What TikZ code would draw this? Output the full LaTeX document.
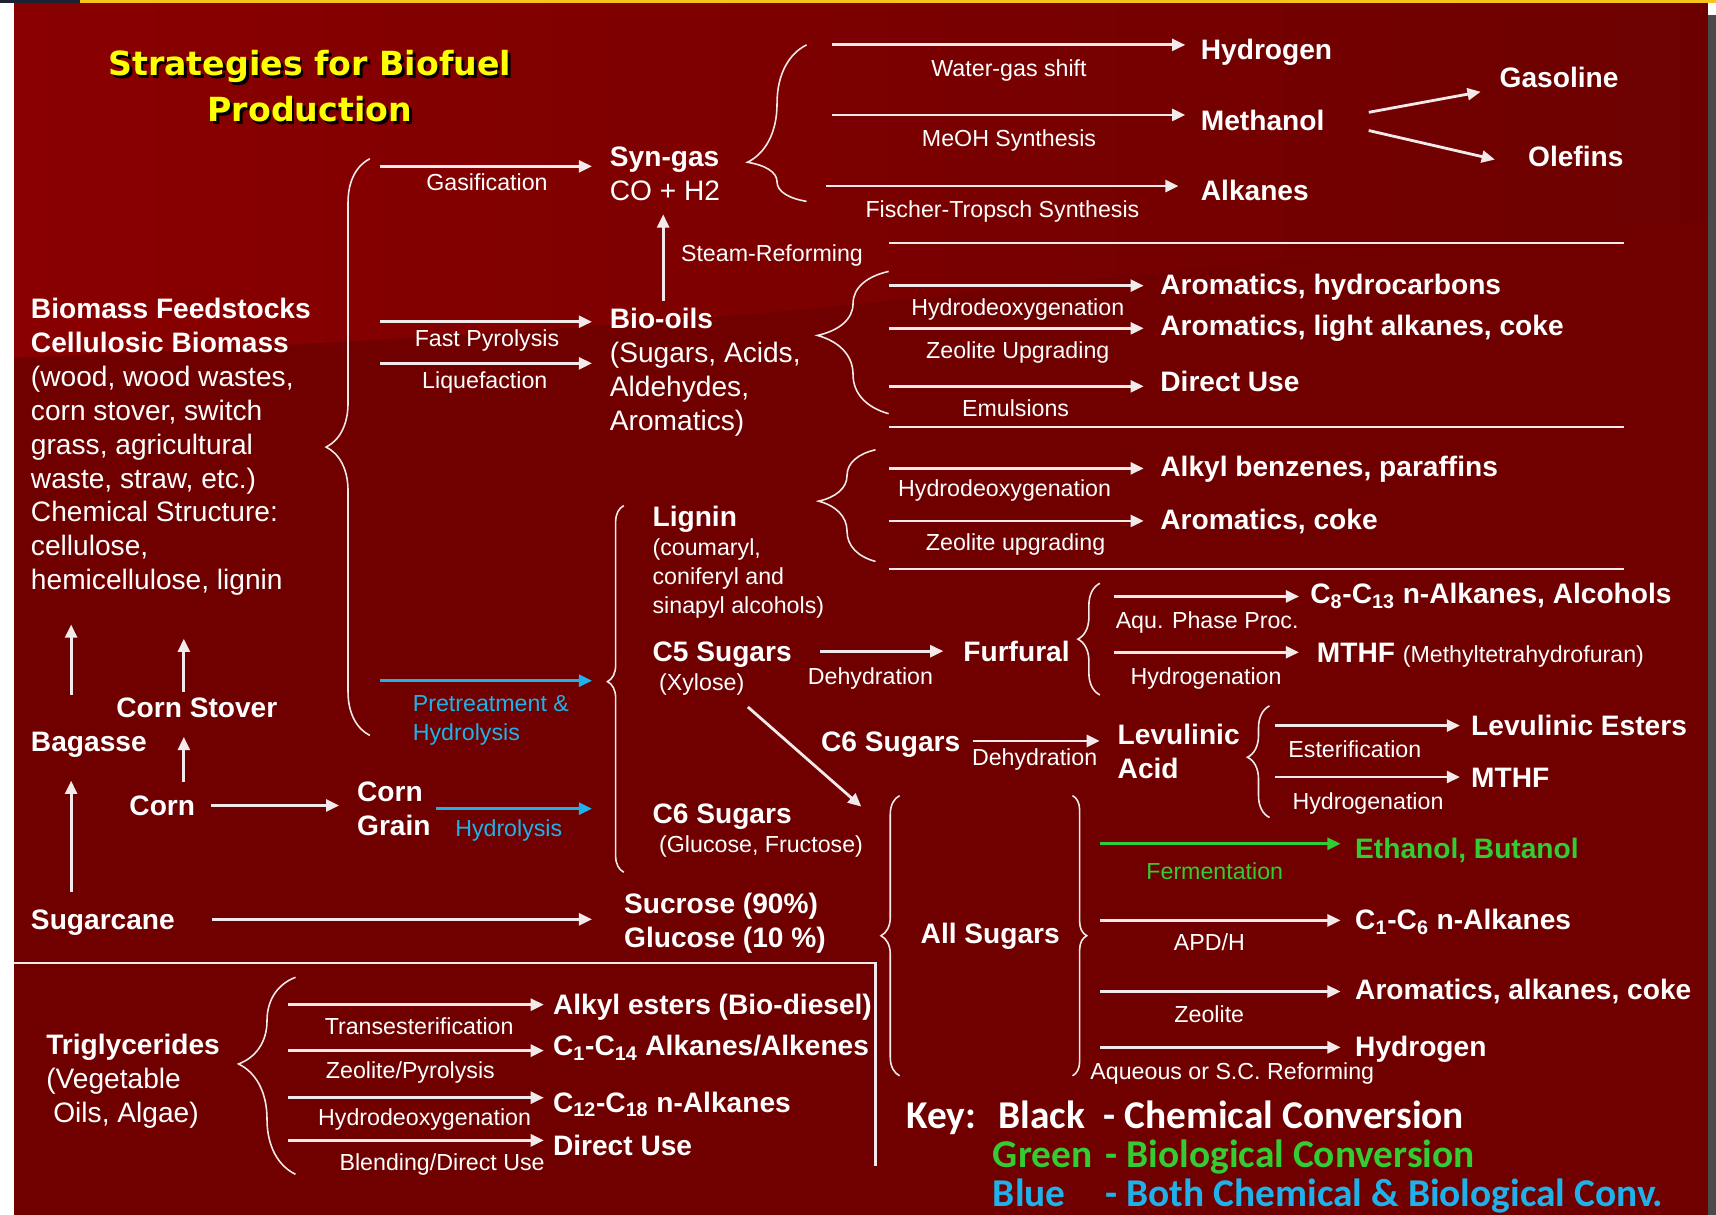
\documentclass[tikz,border=0pt]{standalone}
\usepackage{fontspec}
\setmainfont{Liberation Sans}
\newfontfamily\ttlfont{DejaVu Sans}
\newfontfamily\keyfont{Carlito}
\usetikzlibrary{arrows.meta,calc,decorations.pathreplacing}
\definecolor{bgd}{HTML}{700000}
\definecolor{bgl}{HTML}{8A0000}
\definecolor{bgr}{HTML}{6C0000}
\definecolor{ttly}{HTML}{FFFF00}
\definecolor{grn}{HTML}{33CC33}
\definecolor{blu}{HTML}{1FB2EA}
\definecolor{lnc}{HTML}{F2EAEA}
\definecolor{topy}{HTML}{F7C31B}
\definecolor{topn}{HTML}{1C2233}
\definecolor{edge}{HTML}{4A4A4A}
\newcommand\bigtxt{\fontsize{16pt}{19.3pt}\selectfont}
\newcommand\smtxt{\fontsize{13.2pt}{16.5pt}\selectfont}
\newcommand\keytxt{\keyfont\bfseries\fontsize{22.4pt}{27pt}\selectfont}
\newcommand\ttltxt{\ttlfont\bfseries\fontsize{18.9pt}{26.2pt}\selectfont}

\begin{document}
\begin{tikzpicture}[x=0.02188cm, y=-0.02188cm,
  every node/.style={inner sep=0pt, text=white},
  res/.style={anchor=west, font=\bigtxt\bfseries, text height=11.7pt, text depth=0pt},
  plain/.style={anchor=west, font=\smtxt, text height=9.6pt, text depth=0pt},
  blk/.style={anchor=north west, align=left, font=\bigtxt},
  lbl/.style={font=\smtxt, text height=9.6pt, text depth=0pt},
  ttl/.style={align=center, font=\ttltxt},
  key/.style={anchor=west, font=\keytxt, text height=15pt, text depth=0pt},
  lshift/.style 2 args={xshift=#1*0.6227pt, yshift=#2*-0.6227pt},
  arr/.style={draw=lnc, line width=1.6pt, -{Triangle[length=7.5pt,width=6.8pt]}, shorten >=#1},
  arr/.default=9pt,
  barr/.style={arr=#1, draw=blu}, barr/.default=9pt,
  garr/.style={arr=#1, draw=grn}, garr/.default=9pt,
  brc/.style 2 args={draw=lnc, line width=0.9pt, decorate, decoration={brace, amplitude=#1, aspect=#2}},
  sep/.style={draw=lnc, line width=1.3pt}]
\useasboundingbox (0,0) rectangle (1568,1110);
% frame and background
\fill[white] (0,0) rectangle (1568,1110);
\fill[bgd] (12.8,2.7) rectangle (1561,1110);
\shade[left color=bgl, right color=bgr] (12.8,2.7) -- (1561,2.7) -- (1561,200) -- (900,265)
  .. controls (700,290) and (400,310) .. (12.8,327) -- cycle;
\fill[topn] (0,0) rectangle (73,2.7);
\fill[topy] (73,0) rectangle (1568,2.7);
\fill[edge] (1561,14) rectangle (1568,1110);

% title
\node[ttl, text=black] (ttlsh) at (285.5,81.5) {Strategies for Biofuel\\Production};
\node[ttl, text=ttly] (ttl) at (283,79) {Strategies for Biofuel\\Production};

% feedstocks
\node[blk] (bio) at (28,272) {\textbf{Biomass Feedstocks}\\\textbf{Cellulosic Biomass}\\(wood, wood wastes,\\corn stover, switch\\grass, agricultural\\waste, straw, etc.)\\Chemical Structure:\\cellulose,\\hemicellulose, lignin};
\node[res] (stov) at (106,646) {Corn Stover};
\node[res] (bag) at (28,677) {Bagasse};
\node[res] (corn) at (118,736) {Corn};
\node[blk, font=\bigtxt\bfseries] (cgr) at (326,714) {Corn\\Grain};
\node[res] (sug) at (28,840) {Sugarcane};
\node[blk, font=\bigtxt\bfseries] (sucr) at (570,816) {Sucrose (90\%)\\Glucose (10 \%)};

% syn-gas and bio-oils
\node[blk] (syngas) at (557,134) {\textbf{Syn-gas}\\CO + H2};
\node[blk] (biooil) at (557,281) {\textbf{Bio-oils}\\(Sugars, Acids,\\Aldehydes,\\Aromatics)};
\node[res] (hyd) at (1097,45) {Hydrogen};
\node[res] (meth) at (1097,110) {Methanol};
\node[res] (alk) at (1097,174) {Alkanes};
\node[res] (gasol) at (1370,71) {Gasoline};
\node[res] (olef) at (1396,143) {Olefins};
\node[res] (arhc) at (1060,260) {Aromatics, hydrocarbons};
\node[res] (arlak) at (1060,297) {Aromatics, light alkanes, coke};
\node[res] (dir1) at (1060,348) {Direct Use};

% lignin and sugars
\node[res] (lig) at (596,472) {Lignin};
\node[blk, font=\smtxt] (ligp) at (596,492) {(coumaryl,\\coniferyl and\\sinapyl alcohols)};
\node[res] (alkb) at (1060,426) {Alkyl benzenes, paraffins};
\node[res] (arco) at (1060,474) {Aromatics, coke};
\node[res] (c5) at (596,595) {C5 Sugars};
\node[plain] (xyl) at (602,623) {(Xylose)};
\node[res] (furf) at (880,595) {Furfural};
\node[res] (c813) at (1197,542) {C\textsubscript{8}-C\textsubscript{13} n-Alkanes, Alcohols};
\node[res] (mthf1) at (1203,596) {MTHF {\smtxt\mdseries (Methyltetrahydrofuran)}};
\node[res] (c6m) at (750,677) {C6 Sugars};
\node[blk, font=\bigtxt\bfseries] (lev) at (1021,661) {Levulinic\\Acid};
\node[res] (lest) at (1344,663) {Levulinic Esters};
\node[res] (mthf2) at (1344,710) {MTHF};
\node[res] (c6) at (596,743) {C6 Sugars};
\node[plain] (glf) at (602,771) {(Glucose, Fructose)};

% all sugars
\node[res] (alls) at (841,853) {All Sugars};
\node[res, text=grn] (eth) at (1238,775) {Ethanol, Butanol};
\node[res] (c16) at (1238,840) {C\textsubscript{1}-C\textsubscript{6} n-Alkanes};
\node[res] (arak) at (1238,904) {Aromatics, alkanes, coke};
\node[res] (hyd2) at (1238,956) {Hydrogen};

% triglycerides
\node[blk] (trig) at (42,945) {\textbf{Triglycerides}\\(Vegetable\\\hspace*{4pt}Oils, Algae)};
\node[res] (aest) at (505,918) {Alkyl esters (Bio-diesel)};
\node[res] (c114) at (505,955) {C\textsubscript{1}-C\textsubscript{14} Alkanes/Alkenes};
\node[res] (c1218) at (505,1007) {C\textsubscript{12}-C\textsubscript{18} n-Alkanes};
\node[res] (dir2) at (505,1046) {Direct Use};

% key
\node[key] (kk) at (828,1019) {Key:};
\node[key] (kb) at (912,1019) {Black};
\node[key] (kbt) at (1008,1019) {- Chemical Conversion};
\node[key, text=grn] (kg) at (907,1055) {Green};
\node[key, text=grn] (kgt) at (1010,1055) {- Biological Conversion};
\node[key, text=blu] (kl) at (907,1090) {Blue};
\node[key, text=blu] (klt) at (1010,1090) {- Both Chemical \& Biological Conv.};

% braces and rules
\draw[brc={24.9pt}{0.5}] (338,672) -- (338,145);
\draw[brc={33.6pt}{0.25}] (737,184) -- (737,41);
\draw[brc={40.5pt}{0.55}] (812,378) -- (812,248);
\draw[brc={32.4pt}{0.54}] (800,513) -- (800,411);
\draw[brc={9.3pt}{0.52}] (570,797) -- (570,462);
\draw[brc={12.5pt}{0.5}] (1005,635) -- (1005,533);
\draw[brc={12.5pt}{0.54}] (1160,747) -- (1160,645);
\draw[brc={10.6pt}{0.5}] (822,983) -- (822,727);
\draw[brc={8.1pt}{0.5}] (980,727) -- (980,983);
\draw[brc={32.4pt}{0.56}] (270,1073) -- (270,893);
\draw[sep] (812,222) -- (1484,222);
\draw[sep] (812,390) -- (1484,390);
\draw[sep] (812,520) -- (1484,520);
\draw[sep, line width=1.5pt] (12.8,880) -- (800,880) -- (800,1065);

% connectors
\coordinate (gasS) at (347,152);
\coordinate (pyr) at (347,294);
\coordinate (liq) at (347,332);
\coordinate (pre) at (347,622);
\coordinate (cbr) at (541,622);
\coordinate (stm) at (606,275);
\coordinate (wgs) at (760,41);
\coordinate (meoh) at (760,105);
\coordinate (ft) at (755,170);
\coordinate (hdo1) at (812,261);
\coordinate (zu1) at (812,300);
\coordinate (emu) at (812,353);
\coordinate (hdo2) at (812,428);
\coordinate (zu2) at (812,476);
\coordinate (aqu) at (1018,545);
\coordinate (hg1) at (1018,596);
\coordinate (est) at (1165,663);
\coordinate (hg2) at (1165,710);
\coordinate (dg) at (787,737);
\coordinate (fer) at (1005,771);
\coordinate (apd) at (1005,841);
\coordinate (zeo) at (1005,906);
\coordinate (ref) at (1005,957);
\coordinate (tr1) at (263,918);
\coordinate (tr2) at (263,960);
\coordinate (tr3) at (263,1003);
\coordinate (tr4) at (263,1042);
\coordinate (u1) at (65,635);
\coordinate (u2) at (168,632);

\draw[arr=10pt] (gasS) -- (gasS -| syngas.west) node[lbl, midway, lshift={-7}{14}] {Gasification};
\draw[arr=10pt] (pyr) -- (pyr -| biooil.west) node[lbl, midway, lshift={-7}{15}] {Fast Pyrolysis};
\draw[arr=10pt] (liq) -- (liq -| biooil.west) node[lbl, midway, lshift={-9}{15}] {Liquefaction};
\draw[barr=0pt] (pre) -- (cbr) node[midway, anchor=north west, align=left, font=\smtxt, text=blu, lshift={-68}{12}] {Pretreatment \&\\Hydrolysis};
\draw[arr=7.5pt] (stm) -- (stm |- syngas.south) node[lbl, midway, anchor=west, lshift={15}{2}] {Steam-Reforming};
\draw[arr=8.7pt] (wgs) -- (wgs -| hyd.west) node[lbl, midway, lshift={-6.5}{21}] {Water-gas shift};
\draw[arr=8.7pt] (meoh) -- (meoh -| meth.west) node[lbl, midway, lshift={-6.5}{21}] {MeOH Synthesis};
\draw[arr=12.5pt] (ft) -- (ft -| alk.west) node[lbl, midway, lshift={-10}{21}] {Fischer-Tropsch Synthesis};
\draw[arr=10.8pt, shorten <=25.5pt] (meth.east) -- (gasol.south west);
\draw[arr=19.2pt, shorten <=25.7pt] (meth.east) -- (olef.south west);
\draw[arr=9.3pt] (hdo1) -- (hdo1 -| arhc.west) node[lbl, midway, lshift={-6}{20}] {Hydrodeoxygenation};
\draw[arr=9.3pt] (zu1) -- (zu1 -| arlak.west) node[lbl, midway, lshift={-6}{20}] {Zeolite Upgrading};
\draw[arr=9.3pt] (emu) -- (emu -| dir1.west) node[lbl, midway, lshift={-8}{20}] {Emulsions};
\draw[arr=9.3pt] (hdo2) -- (hdo2 -| alkb.west) node[lbl, midway, lshift={-18}{18}] {Hydrodeoxygenation};
\draw[arr=9.3pt] (zu2) -- (zu2 -| arco.west) node[lbl, midway, lshift={-8}{19}] {Zeolite upgrading};
\draw[arr=11.2pt, shorten <=15.6pt] (c5) -- (furf) node[lbl, midway, lshift={-6.5}{23}] {Dehydration};
\draw[arr=6.2pt] (aqu) -- (aqu -| c813.west) node[lbl, midway, lshift={-4.5}{22}] {Aqu. Phase Proc.};
\draw[arr=10pt] (hg1) -- (hg1 -| mthf1.west) node[lbl, midway, lshift={-8.5}{22}] {Hydrogenation};
\draw[arr=10pt, shorten <=6.8pt] (c6m.east) -- (c6m.east -| lev.west) node[lbl, midway, lshift={-4}{15}] {Dehydration};
\draw[arr=6.2pt] (est) -- (est -| lest.west) node[lbl, midway, lshift={-16.5}{21}] {Esterification};
\draw[arr=6.2pt] (hg2) -- (hg2 -| mthf2.west) node[lbl, midway, lshift={-4.5}{22}] {Hydrogenation};
\draw[arr=0pt] ($(xyl.south east)+(3,15)$) -- (dg);
\draw[arr=10pt, shorten <=8.9pt] (corn.east) -- (corn.east -| cgr.west);
\draw[barr=0pt, shorten <=3pt] (cgr.east) -- (cgr.east -| cbr) node[lbl, midway, text=blu, lshift={-2.5}{18}] {Hydrolysis};
\draw[arr=0pt, shorten <=21.2pt] (sug.east) -- (sug.east -| cbr);
\draw[arr=16.2pt] (u1) -- (u1 |- bio.south);
\draw[arr=24.3pt] (u2) -- (u2 |- bio.south);
\draw[arr=11pt, shorten <=7.1pt] (corn.north -| u2) -- (u2 |- stov.south);
\draw[arr=16.6pt, shorten <=9.6pt] (sug.north -| u1) -- (u1 |- bag.south);
\draw[garr=8.1pt] (fer) -- (fer -| eth.west) node[lbl, midway, text=grn, lshift={-11.5}{25}] {Fermentation};
\draw[arr=8.1pt] (apd) -- (apd -| c16.west) node[lbl, midway, lshift={-16.5}{20}] {APD/H};
\draw[arr=8.1pt] (zeo) -- (zeo -| arak.west) node[lbl, midway, lshift={-16.5}{21}] {Zeolite};
\draw[arr=8.1pt] (ref) -- (ref -| hyd2.west) node[lbl, midway, lshift={4.5}{22}] {Aqueous or S.C. Reforming};
\draw[arr=5pt] (tr1) -- (tr1 -| aest.west) node[lbl, midway, lshift={-1}{20}] {Transesterification};
\draw[arr=5pt] (tr2) -- (tr2 -| c114.west) node[lbl, midway, lshift={-9}{18}] {Zeolite/Pyrolysis};
\draw[arr=5pt] (tr3) -- (tr3 -| c1218.west) node[lbl, midway, lshift={4}{18}] {Hydrodeoxygenation};
\draw[arr=5pt] (tr4) -- (tr4 -| dir2.west) node[lbl, midway, lshift={20}{20}] {Blending/Direct Use};
\end{tikzpicture}
\end{document}
